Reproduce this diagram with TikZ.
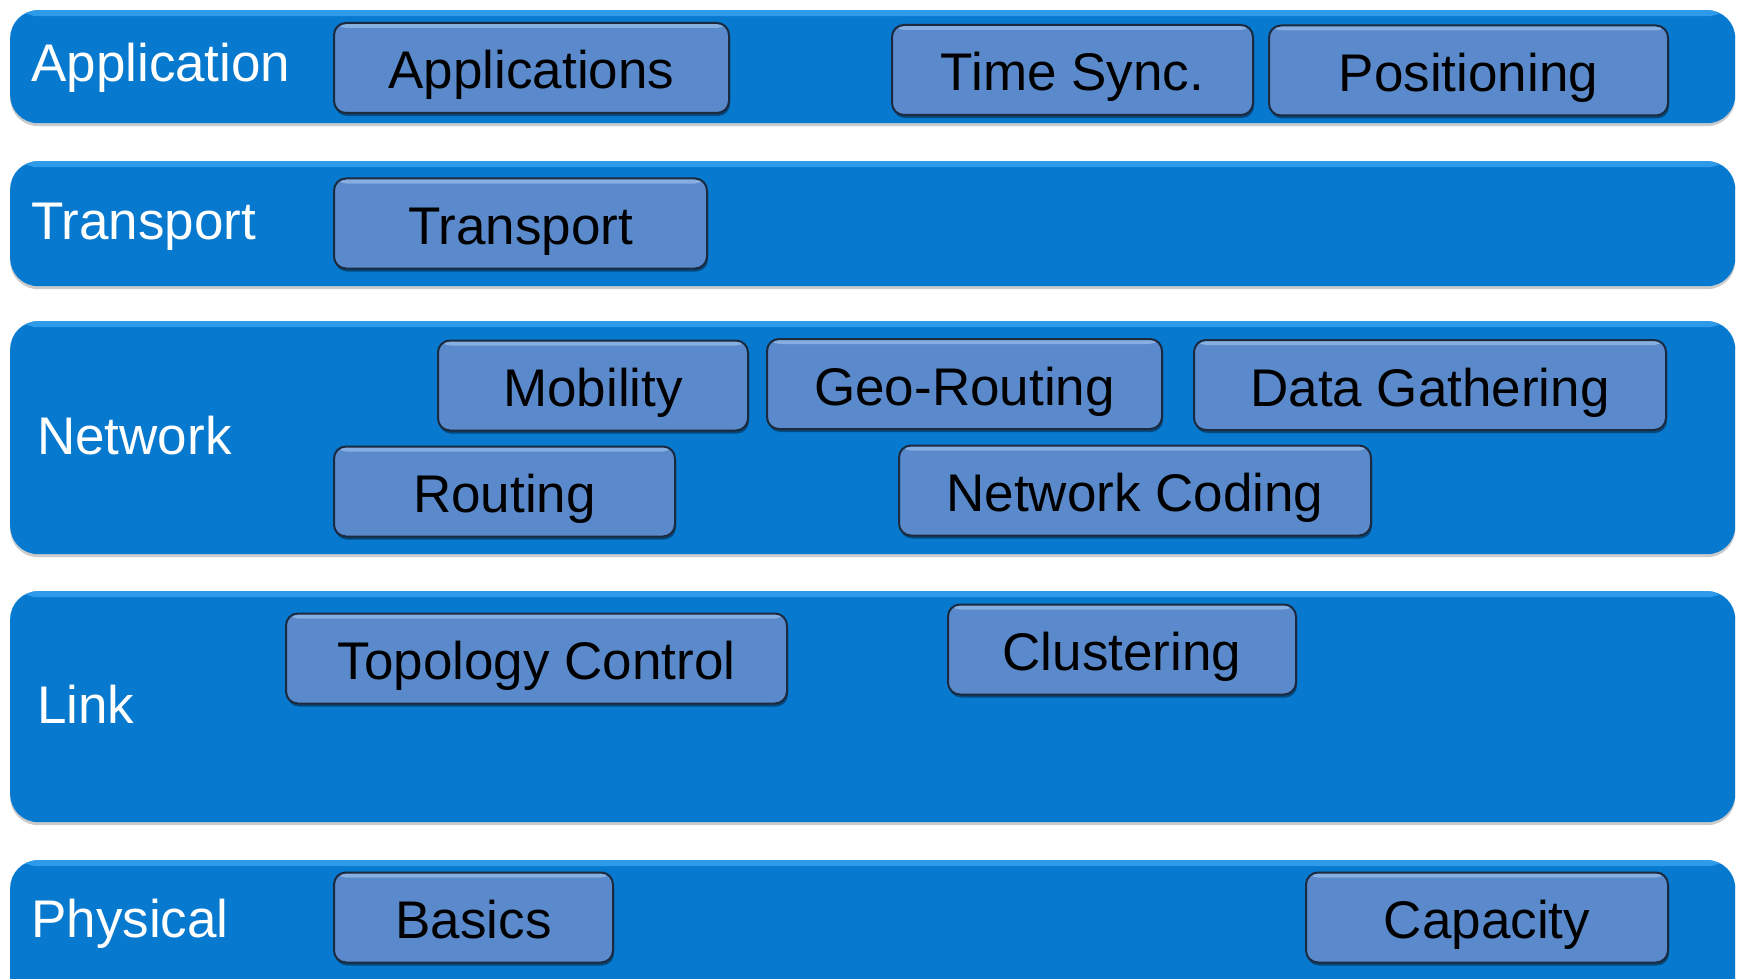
\documentclass[tikz,border=0pt]{standalone}
\usepackage{fontspec}
\setmainfont{Liberation Sans}
\usepackage{xcolor}
\usetikzlibrary{positioning,shadows}
\definecolor{layerblue}{HTML}{0779CF}
\definecolor{layerhi}{HTML}{2E9BEA}
\definecolor{modblue}{HTML}{5A8ACB}
\definecolor{modhi}{HTML}{86AEE0}
\definecolor{modedge}{HTML}{1B2A3E}

\begin{document}
\begin{tikzpicture}[x=1pt, y=-1pt,
 font=\fontsize{53}{60}\selectfont,
 layer/.style={rectangle, rounded corners=28pt, fill=layerblue, draw=none,
 minimum width=1725pt, anchor=north west, inner sep=0pt,
 drop shadow={shadow xshift=0pt, shadow yshift=-3pt, opacity=0.45, fill=black!45},
 path picture={\fill[layerhi] ([yshift=-6pt]path picture bounding box.north west) rectangle (path picture bounding box.north east);}},
 lname/.style={anchor=west, text=white, inner sep=0pt, text height=38pt, text depth=0pt},
 mod/.style={rectangle, rounded corners=12pt, fill=modblue, draw=modedge, line width=2pt,
 text=black, inner sep=0pt, minimum height=90pt, text height=42pt, text depth=0pt,
 drop shadow={shadow xshift=1pt, shadow yshift=-3pt, opacity=0.4, fill=black},
 path picture={\fill[modhi] ([yshift=-5pt]path picture bounding box.north west) rectangle (path picture bounding box.north east);}},
]
\useasboundingbox (0,0) rectangle (1738,979);
\fill[white] (0,0) rectangle (1738,979);
% layers
\node[layer, minimum height=113pt] (lapp) at (10,10) {};
\node[layer, minimum height=125pt] (ltrans) at (10,161) {};
\node[layer, minimum height=233pt] (lnet) at (10,321) {};
\node[layer, minimum height=231pt] (llink) at (10,591) {};
\node[layer, minimum height=150pt] (lphys) at (10,860) {};
\node[lname] (tapp) at (31,63) {Application};
\node[lname] (ttrans) at (31,220) {Transport};
\node[lname] (tnet) at (37,435) {Network};
\node[lname] (tlink) at (37,704) {Link};
\node[lname] (tphys) at (31,918) {Physical};
% modules
\node[mod, minimum width=395pt] (apps) at (531.5,68) {Applications};
\node[mod, minimum width=361pt] (tsync) at (1072.5,70) {Time Sync.};
\node[mod, minimum width=399pt] (posi) at (1468.5,70.5) {Positioning};
\node[mod, minimum width=373pt] (trans) at (520.5,223.5) {Transport};
\node[mod, minimum width=310pt] (mobi) at (593,385.5) {Mobility};
\node[mod, minimum width=395pt] (geo) at (964.5,384) {Geo-Routing};
\node[mod, minimum width=472pt] (data) at (1430,385) {Data Gathering};
\node[mod, minimum width=341pt] (rout) at (504.5,491.5) {Routing};
\node[mod, minimum width=472pt] (ncod) at (1135,490.5) {Network Coding};
\node[mod, minimum width=501pt] (topo) at (536.5,658.5) {Topology Control};
\node[mod, minimum width=348pt] (clus) at (1122,649.5) {Clustering};
\node[mod, minimum width=279pt] (basi) at (473.5,917.5) {Basics};
\node[mod, minimum width=362pt] (capa) at (1487,917.5) {Capacity};
\end{tikzpicture}
\end{document}
